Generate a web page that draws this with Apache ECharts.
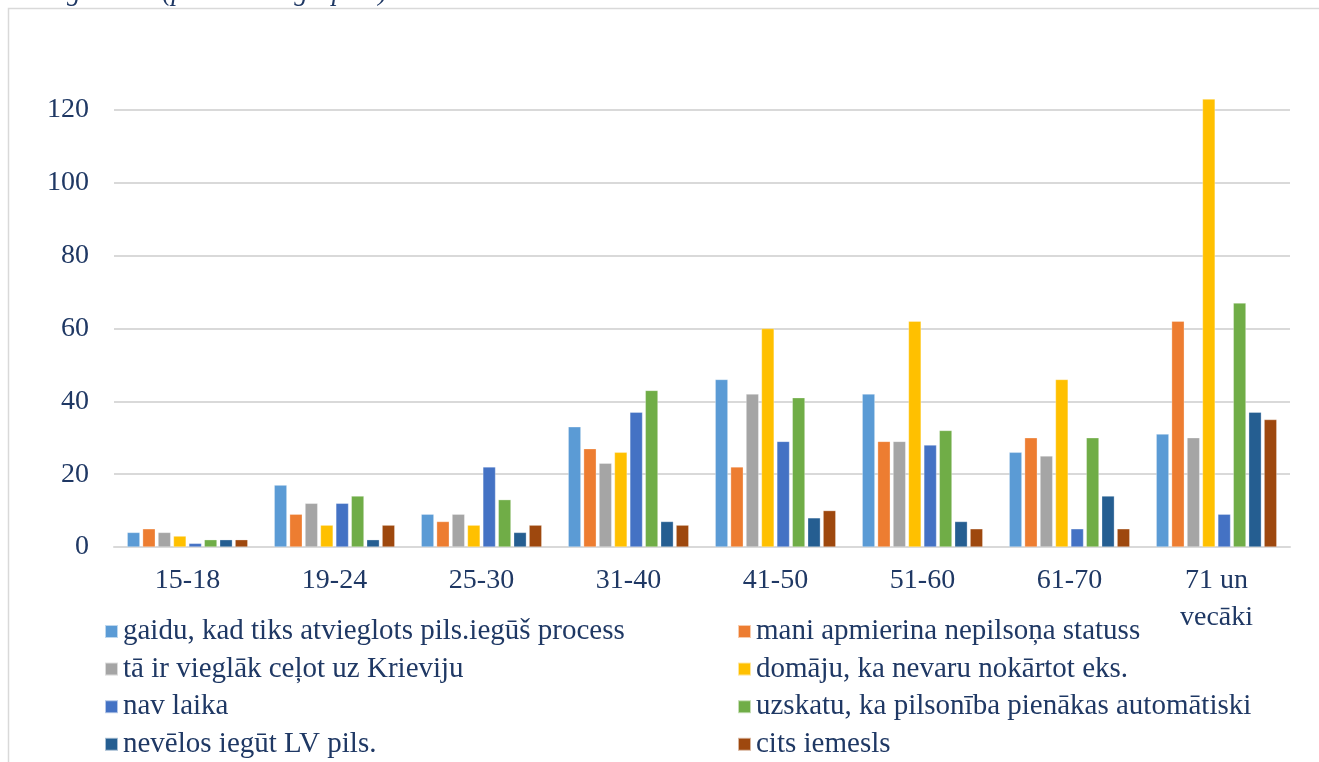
<!DOCTYPE html>
<html>
<head>
<meta charset="utf-8">
<script src="https://cdn.jsdelivr.net/npm/echarts@6/dist/echarts.min.js"></script>
<style>
  html, body { margin: 0; padding: 0; background: #fff; }
  #main { width: 1319px; height: 762px; }
</style>
</head>
<body>
<div id="main"></div>
<script>
  // vecuma grupas
  var categories = ['15-18', '19-24', '25-30', '31-40', '41-50', '51-60', '61-70', '71 un\nvecāki']
  // y ass iedaļas
  var yTicks = [0, 20, 40, 60, 80, 100, 120]

  var gaidu    = [4, 17, 9, 33, 46, 42, 26, 31]
  var mani     = [5, 9, 7, 27, 22, 29, 30, 62]
  var vieglak  = [4, 12, 9, 23, 42, 29, 25, 30]
  var domaju   = [3, 6, 6, 26, 60, 62, 46, 123]
  var navLaika = [1, 12, 22, 37, 29, 28, 5, 9]
  var uzskatu  = [2, 14, 13, 43, 41, 32, 30, 67]
  var nevelos  = [2, 2, 4, 7, 8, 7, 14, 37]
  var cits     = [2, 6, 6, 6, 10, 5, 5, 35]

  var seriesNames = [
    'gaidu, kad tiks atvieglots pils.iegūš process',
    'mani apmierina nepilsoņa statuss',
    'tā ir vieglāk ceļot uz Krieviju',
    'domāju, ka nevaru nokārtot eks.',
    'nav laika',
    'uzskatu, ka pilsonība pienākas automātiski',
    'nevēlos iegūt LV pils.',
    'cits iemesls'
  ]
  var seriesData = [gaidu, mani, vieglak, domaju, navLaika, uzskatu, nevelos, cits]
  var colors = ['#5B9BD5', '#ED7D31', '#A5A5A5', '#FFC000', '#4472C4', '#70AD47', '#255E91', '#9E480E']

  var textColor = '#1f3864'
  var font = '"Liberation Serif", "Times New Roman", serif'

  var series = seriesData.map(function (d, i) {
    return {
      name: seriesNames[i],
      type: 'bar',
      data: d,
      clip: false,
      barGap: '22%',
      barCategoryGap: '18%',
      itemStyle: { color: colors[i], borderColor: 'rgba(255,255,255,0.6)', borderWidth: 0.5 }
    }
  })

  // divas leģendas kolonnas
  var legendBase = {
    orient: 'vertical',
    icon: 'rect',
    itemWidth: 13,
    itemHeight: 13,
    itemGap: 8.6,
    height: 220,
    textStyle: { color: textColor, fontFamily: font, fontSize: 29, lineHeight: 29 }
  }

  var myChart = echarts.init(document.getElementById('main'))
  myChart.setOption({
    animation: false,
    color: colors,
    grid: { left: 114, right: 29, top: 110, bottom: 215 },
    legend: [
      Object.assign({}, legendBase, { left: 99, top: 612, data: [seriesNames[0], seriesNames[2], seriesNames[4], seriesNames[6]] }),
      Object.assign({}, legendBase, { left: 732, top: 612, data: [seriesNames[1], seriesNames[3], seriesNames[5], seriesNames[7]] })
    ],
    graphic: [
      {
        type: 'rect',
        z: -10,
        shape: { x: 8.5, y: 8.5, width: 1400, height: 800 },
        style: { fill: 'none', stroke: '#d9d9d9', lineWidth: 1.5 }
      },
      {
        type: 'text',
        style: {
          x: 22, y: 6,
          text: 'neiegūšanas (pa vecuma grupām).',
          align: 'left', verticalAlign: 'bottom',
          fill: textColor,
          font: 'italic 27px ' + font
        }
      }
    ],
    xAxis: {
      type: 'category',
      data: categories,
      axisTick: { show: false },
      axisLine: { lineStyle: { color: '#d9d9d9', width: 2 } },
      axisLabel: { color: textColor, fontFamily: font, fontSize: 28, lineHeight: 37, margin: 15, interval: 0 }
    },
    yAxis: {
      type: 'value',
      min: yTicks[0],
      max: yTicks[yTicks.length - 1],
      interval: 20,
      axisLine: { show: false },
      axisTick: { show: false },
      splitLine: { lineStyle: { color: '#d9d9d9', width: 2 } },
      axisLabel: { color: textColor, fontFamily: font, fontSize: 28, margin: 25 }
    },
    series: series
  })
</script>
</body>
</html>
